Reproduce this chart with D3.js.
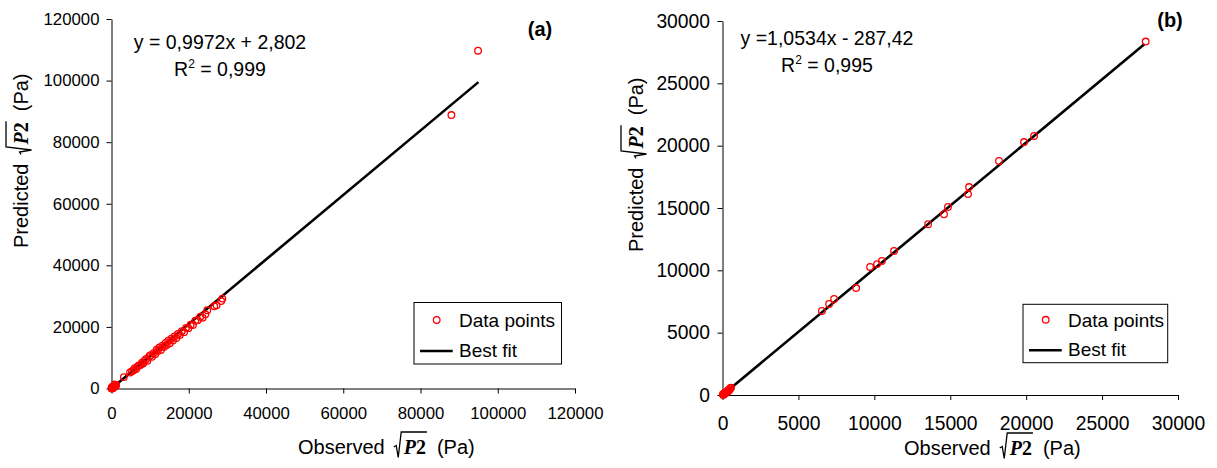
<!DOCTYPE html>
<html>
<head>
<meta charset="utf-8">
<script src="https://cdn.jsdelivr.net/npm/d3@7.9.0/dist/d3.min.js"></script>
<style>
  body { margin: 0; background: #fff; }
  svg { display: block; font-family: "Liberation Sans", Arial, sans-serif; }
</style>
</head>
<body>
<div id="chart"></div>
<script>
// Values

const ticksA = [0, 20000, 40000, 60000, 80000, 100000, 120000];
const ticksB = [0, 5000, 10000, 15000, 20000, 25000, 30000];

// panel (a): observed vs predicted
const obsA = [0, 100, 200, 300, 150, 400, 500, 250, 600, 50, 350, 700, 900, 1100, 800, 1200,
  3200, 4800, 5300, 5700, 6000, 6400, 6800, 7100, 7500, 7900, 8200, 8600, 9000, 9300,
  9800, 10100, 10500, 10900, 11300, 11700, 12000, 12400, 12800, 13200, 13600, 14000,
  14300, 14700, 15100, 15500, 15900, 16300, 16800, 17200, 17700, 18200, 18800, 19300,
  19900, 20500, 21100, 21700, 22300, 23000, 23600, 24300, 24800, 26600, 27200, 28400,
  28700, 88000, 94900];
const predA = [0, 150, 100, 350, 400, 250, 500, 600, 400, 300, 50, 650, 1000, 800, 1300, 1150,
  3700, 5200, 5600, 5900, 6600, 6300, 7200, 7500, 7600, 8400, 8100, 9100, 9600, 9000,
  10500, 10800, 10300, 11500, 11100, 12600, 12200, 13300, 12500, 13900, 13500, 14800,
  14100, 15500, 14700, 16200, 15600, 16900, 16400, 17700, 17400, 18600, 18300, 19700,
  19600, 20700, 20600, 22000, 22200, 23300, 23000, 24100, 25400, 26700, 27000, 28400,
  29200, 88800, 109700];
const fitObsA = [0, 95000];
const fitPredA = [0, 99500];
const equationA = "y = 0,9972x + 2,802";
const r2A = "0,999";

// panel (b)
const obsB = [20, 60, 90, 130, 170, 210, 260, 300, 350, 390, 430, 480, 520, 560,
  6550, 7020, 7350, 8800, 9720, 10180, 10500, 11300, 13540, 14590, 14850, 16170,
  16240, 18210, 19860, 20520, 27870];
const predB = [40, 10, 120, 80, 190, 150, 230, 310, 280, 400, 370, 460, 540, 590,
  6740, 7300, 7700, 8580, 10270, 10500, 10750, 11550, 13700, 14500, 15080, 16120,
  16680, 18770, 20290, 20780, 28350];
const fitObsB = [0, 27800];
const fitPredB = [0, 28150];
const equationB = "y =1,0534x - 287,42";
const r2B = "0,995";

const legendLabels = ["Data points", "Best fit"];


// Layout of the two panels
const panels = [
  {
    tag: "(a)", ticks: ticksA, obs: obsA, pred: predA, fitObs: fitObsA, fitPred: fitPredA,
    eq: equationA, r2: r2A,
    x0: 111.5, x1: 575, y0: 388.5, y1: 19, tickFont: 16.8, xPad: 13, yPad: 7,
    eqX: 220, eqY: 49, tagX: 540, tagY: 36,
    leg: { x: 414, y: 302.5, w: 147.5, h: 61.5, r1: 24.5, r2: 54.5 },
    xTitle: [298, 454], yTitle: [28, 248]
  },
  {
    tag: "(b)", ticks: ticksB, obs: obsB, pred: predB, fitObs: fitObsB, fitPred: fitPredB,
    eq: equationB, r2: r2B,
    x0: 722.5, x1: 1178, y0: 395, y1: 21, tickFont: 19.3, xPad: 16, yPad: 7.5,
    eqX: 827, eqY: 45, tagX: 1170, tagY: 27,
    leg: { x: 1023, y: 304.3, w: 144.7, h: 58.4, r1: 22.5, r2: 52 },
    xTitle: [904, 455], yTitle: [643, 252]
  }
];


/*
 * Axis title with the square root of p'2 drawn inline
 */
function drawTitle(parent, word, x, y, rotated) {
  const g = parent.append("g")
    .attr("transform", rotated ? `translate(${x},${y}) rotate(-90)` : `translate(${x},${y})`);

  const first = g.append("text").attr("font-size", 20).text(word);
  const w = first.node().getComputedTextLength();
  const rx = w + 9;

  const p2 = g.append("text")
    .attr("x", rx + 10)
    .attr("font-family", "'Liberation Serif', 'Times New Roman', serif")
    .attr("font-size", 20)
    .attr("font-weight", "bold");
  p2.append("tspan").attr("font-style", "italic").text("P");
  p2.append("tspan").text("2");
  const pw = p2.node().getComputedTextLength();

  // radical sign + bar over P2
  g.append("path")
    .attr("d", `M${rx},-7 L${rx + 2.5},-8.5 L${rx + 4.5},3.5 L${rx + 7.5},-22 L${rx + 11 + pw},-22`)
    .attr("fill", "none")
    .attr("stroke", "#000")
    .attr("stroke-width", 1.3);

  g.append("text")
    .attr("x", rx + 10 + pw + 11)
    .attr("font-size", 20)
    .text("(Pa)");
}


function renderPanel(svg, p) {
  const x = d3.scaleLinear().domain([p.ticks[0], p.ticks[p.ticks.length - 1]]).range([p.x0, p.x1]);
  const y = d3.scaleLinear().domain([p.ticks[0], p.ticks[p.ticks.length - 1]]).range([p.y0, p.y1]);

  const xAxis = d3.axisBottom(x).tickValues(p.ticks).tickFormat(d3.format("d"))
    .tickSize(5).tickSizeOuter(0).tickPadding(p.xPad);
  const yAxis = d3.axisLeft(y).tickValues(p.ticks).tickFormat(d3.format("d"))
    .tickSize(5).tickSizeOuter(0).tickPadding(p.yPad);

  const gx = svg.append("g").attr("transform", `translate(0,${p.y0})`).call(xAxis);
  const gy = svg.append("g").attr("transform", `translate(${p.x0},0)`).call(yAxis);
  [gx, gy].forEach(g => {
    g.selectAll("text").attr("font-size", p.tickFont).attr("fill", "#000")
      .attr("font-family", "'Liberation Sans', Arial, sans-serif");
    g.selectAll("line, path").attr("stroke", "#000");
  });
  gx.selectAll("text").attr("dy", "0");
  gx.selectAll("text").attr("y", 5 + p.xPad + p.tickFont * 0.72);

  // best fit line
  const fit = p.fitObs.map((d, i) => [d, p.fitPred[i]]);
  svg.append("path")
    .datum(fit)
    .attr("fill", "none")
    .attr("stroke", "#000")
    .attr("stroke-width", 2.6)
    .attr("d", d3.line().x(d => x(d[0])).y(d => y(d[1])));

  // data points
  svg.append("g")
    .selectAll("circle")
    .data(p.obs.map((d, i) => [d, p.pred[i]]))
    .enter()
    .append("circle")
    .attr("cx", d => x(d[0]))
    .attr("cy", d => y(d[1]))
    .attr("r", 3.3)
    .attr("fill", "none")
    .attr("stroke", "#ff0000")
    .attr("stroke-width", 1.3);

  // equation
  svg.append("text")
    .attr("x", p.eqX).attr("y", p.eqY)
    .attr("text-anchor", "middle")
    .attr("font-size", 19.5)
    .text(p.eq);
  const r = svg.append("text")
    .attr("x", p.eqX).attr("y", p.eqY + 27)
    .attr("text-anchor", "middle")
    .attr("font-size", 19.5);
  r.append("tspan").text("R");
  r.append("tspan").attr("font-size", 12).attr("dy", -8).text("2");
  r.append("tspan").attr("dy", 8).text(" = " + p.r2);

  // panel tag
  svg.append("text")
    .attr("x", p.tagX).attr("y", p.tagY)
    .attr("text-anchor", "middle")
    .attr("font-size", 20)
    .attr("font-weight", "bold")
    .text(p.tag);

  // legend
  const L = p.leg;
  const lg = svg.append("g").attr("transform", `translate(${L.x},${L.y})`);
  lg.append("rect")
    .attr("width", L.w).attr("height", L.h)
    .attr("fill", "#fff").attr("stroke", "#000").attr("stroke-width", 1);
  lg.append("circle")
    .attr("cx", 22.7).attr("cy", L.r1 - 7)
    .attr("r", 3.3)
    .attr("fill", "none").attr("stroke", "#ff0000").attr("stroke-width", 1.3);
  lg.append("line")
    .attr("x1", 6).attr("x2", 38.7)
    .attr("y1", L.r2 - 6).attr("y2", L.r2 - 6)
    .attr("stroke", "#000").attr("stroke-width", 2.6);
  lg.selectAll(".leg-text")
    .data(legendLabels)
    .enter()
    .append("text")
    .attr("class", "leg-text")
    .attr("x", 45)
    .attr("y", (d, i) => i === 0 ? L.r1 : L.r2)
    .attr("font-size", 19)
    .text(d => d);

  // axis titles
  drawTitle(svg, "Observed", p.xTitle[0], p.xTitle[1], false);
  drawTitle(svg, "Predicted", p.yTitle[0], p.yTitle[1], true);
}


const svg = d3.select("#chart")
  .append("svg")
  .attr("width", 1217)
  .attr("height", 468);

panels.forEach(p => renderPanel(svg, p));
</script>
</body>
</html>
